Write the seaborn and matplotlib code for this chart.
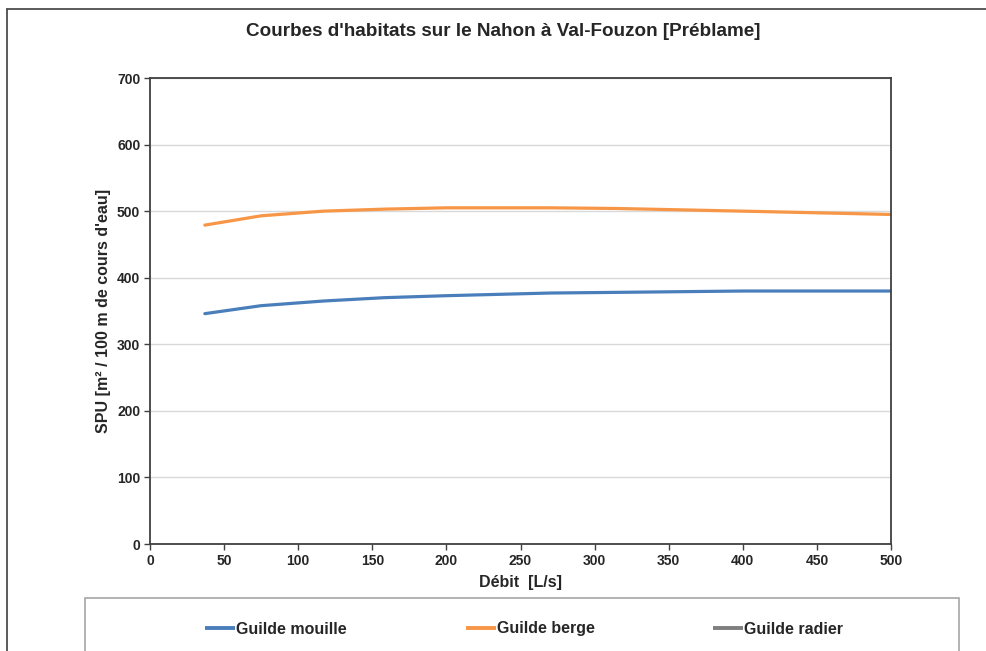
import matplotlib
matplotlib.use("Agg")
import matplotlib.pyplot as plt
from matplotlib.lines import Line2D
from matplotlib.patches import Rectangle
import seaborn as sns
import pandas as pd

# Habitat curves (SPU per 100 m of stream) versus discharge
debit = [37, 75, 117, 158, 200, 270, 315, 400, 500]
spu_mouille = [346, 358, 365, 370, 373, 377, 378, 380, 380]
spu_berge = [479, 493, 500, 503, 505, 505, 504, 500, 495]
spu_radier = []

series_names = ["Guilde mouille", "Guilde berge", "Guilde radier"]
series_colors = ["#4a7ebb", "#f79646", "#7f7f7f"]

x_ticks = [0, 50, 100, 150, 200, 250, 300, 350, 400, 450, 500]
y_ticks = [0, 100, 200, 300, 400, 500, 600, 700]

df = pd.concat([
    pd.DataFrame({"debit": debit, "spu": spu_mouille, "guilde": series_names[0]}),
    pd.DataFrame({"debit": debit, "spu": spu_berge, "guilde": series_names[1]}),
])

sns.set_theme(style="white")
plt.rcParams["font.family"] = ["Liberation Sans", "DejaVu Sans"]

W, H = 986, 651
fig = plt.figure(figsize=(W / 100, H / 100), dpi=100)
ax = fig.add_axes([150 / W, 1 - 544 / H, (891 - 150) / W, (544 - 78) / H])

sns.lineplot(data=df, x="debit", y="spu", hue="guilde",
             palette=dict(zip(series_names[:2], series_colors[:2])),
             linewidth=2.3, ax=ax, legend=False, sort=False)
ax.plot(spu_radier, spu_radier, color=series_colors[2], linewidth=2.3)

ax.set_xlim(0, 500)
ax.set_ylim(0, 700)
ax.set_xticks(x_ticks)
ax.set_yticks(y_ticks)
ax.tick_params(axis="both", which="major", direction="out", length=4, width=1,
               color="#404040", labelsize=10, pad=3, bottom=True, left=True)
for lab in ax.get_xticklabels() + ax.get_yticklabels():
    lab.set_fontweight("bold")
ax.grid(axis="y", color="#d9d9d9", linewidth=1)
ax.set_axisbelow(True)
for sp in ax.spines.values():
    sp.set_color("#404040")
    sp.set_linewidth(1.3)

ax.set_xlabel("Débit  [L/s]", fontsize=11.5, fontweight="bold", labelpad=5)
ax.set_ylabel("SPU [m² / 100 m de cours d'eau]", fontsize=11.5,
              fontweight="bold", labelpad=4)

fig.text(503 / W, 1 - 31 / H, "Courbes d'habitats sur le Nahon à Val-Fouzon [Préblame]",
         ha="center", va="center", fontsize=13.6, fontweight="bold")

# Outer chart frame (top and left edges)
fig.add_artist(Line2D([7 / W, 7 / W], [0, 1 - 9 / H],
                      transform=fig.transFigure, color="#4d4d4d", linewidth=1.3))
fig.add_artist(Line2D([7 / W, 1], [1 - 9 / H, 1 - 9 / H],
                      transform=fig.transFigure, color="#4d4d4d", linewidth=1.3))

# Legend box: a line swatch followed by the series name, all on one baseline
fig.add_artist(Rectangle((85 / W, -0.01), (959 - 85) / W, (H - 598) / H + 0.01,
                         transform=fig.transFigure, fill=False,
                         edgecolor="#a6a6a6", linewidth=1.2))
entry_left = [205, 466, 713]
for name, color, x0 in zip(series_names, series_colors, entry_left):
    fig.add_artist(Line2D([x0 / W, (x0 + 30) / W], [1 - 628 / H, 1 - 628 / H],
                          transform=fig.transFigure, color=color, linewidth=2.8,
                          solid_capstyle="butt"))
    fig.text((x0 + 31) / W, 1 - 633.5 / H, name, ha="left", va="baseline",
             fontsize=11.5, fontweight="bold")

fig.savefig("out.png", dpi=100, facecolor="white")
